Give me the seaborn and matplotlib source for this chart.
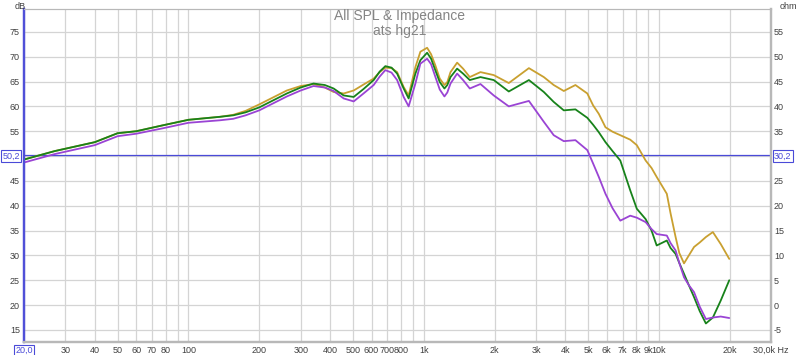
import numpy as np
import pandas as pd
import seaborn as sns
import matplotlib
matplotlib.use("Agg")
import matplotlib.pyplot as plt
from matplotlib.ticker import FixedLocator, NullFormatter, NullLocator

# frequency points (Hz)
freqs = [20, 27, 40, 50, 60, 78, 100, 136, 155, 175,
         200, 262, 300, 340, 380, 414, 457, 504, 555, 613,
         650, 687, 730, 771, 822, 863, 922, 968, 1034, 1075,
         1120, 1170, 1225, 1260, 1300, 1387, 1470, 1570, 1743, 1985,
         2300, 2800, 3240, 3570, 3940, 4415, 4960, 5250, 5550, 5925,
         6350, 6850, 7550, 8050, 8780, 9300, 9780, 10800, 11200, 11770,
         12200, 12780, 13400, 14100, 14900, 15830, 16950, 18300, 19900]

spl_gold = [49.3, 51.0, 52.8, 54.6, 55.0, 56.2, 57.3, 57.9, 58.3, 59.1,
            60.4, 63.2, 64.1, 64.5, 63.8, 62.9, 62.6, 63.2, 64.4, 65.6,
            66.9, 67.8, 67.7, 66.9, 63.9, 62.2, 67.9, 71.0, 71.8, 70.5,
            68.3, 65.6, 64.3, 64.9, 66.9, 68.8, 67.6, 65.9, 66.9, 66.3,
            64.7, 67.7, 65.9, 64.3, 63.1, 64.3, 62.6, 60.2, 58.5, 55.8,
            54.9, 54.2, 53.3, 52.2, 49.1, 47.6, 45.8, 42.4, 38.5, 33.7,
            30.5, 28.4, 30.0, 31.7, 32.6, 33.7, 34.7, 32.3, 29.3]

spl_green = [49.3, 51.0, 52.8, 54.6, 55.0, 56.2, 57.3, 57.9, 58.2, 58.8,
             59.8, 62.6, 63.8, 64.6, 64.3, 63.6, 62.2, 61.9, 63.5, 65.3,
             67.0, 68.1, 67.8, 66.6, 63.6, 61.6, 66.6, 69.3, 70.8, 69.6,
             67.3, 64.9, 63.6, 64.3, 65.9, 67.6, 66.6, 65.3, 65.9, 65.3,
             63.0, 65.3, 62.9, 60.9, 59.2, 59.4, 57.7, 56.3, 54.8, 52.8,
             51.0, 49.1, 43.1, 39.4, 37.3, 35.0, 32.0, 33.0, 31.5, 30.3,
             28.5, 26.3, 24.0, 21.6, 18.8, 16.3, 17.5, 20.9, 25.0]

spl_purple = [48.7, 50.4, 52.2, 54.0, 54.5, 55.6, 56.7, 57.2, 57.5, 58.2,
              59.2, 62.0, 63.2, 64.1, 63.8, 63.1, 61.6, 61.0, 62.6, 64.3,
              66.0, 67.3, 66.8, 65.3, 61.9, 60.0, 64.6, 68.6, 69.6, 68.5,
              66.0, 63.4, 62.0, 62.8, 64.6, 66.6, 65.3, 63.6, 64.5, 62.2,
              60.0, 61.1, 56.9, 54.2, 53.0, 53.2, 51.2, 48.5, 45.8, 42.4,
              39.5, 37.0, 38.0, 37.6, 36.7, 35.3, 34.3, 34.0, 32.5, 31.0,
              28.5, 25.6, 24.0, 22.6, 19.7, 17.2, 17.5, 17.7, 17.4]

series_names = ["gold", "green", "purple"]
palette = {"gold": "#c9a030", "green": "#17821a", "purple": "#9a44d4"}

x_ticks = [20, 30, 40, 50, 60, 70, 80, 90, 100, 200, 300, 400, 500, 600, 700,
           800, 900, 1000, 2000, 3000, 4000, 5000, 6000, 7000, 8000, 9000,
           10000, 20000, 30000]
x_labels = ["20,0", "30", "40", "50", "60", "70", "80", "", "100", "200", "300",
            "400", "500", "600", "700", "800", "", "1k", "2k", "3k", "4k", "5k",
            "6k", "7k", "8k", "9k", "10k", "20k", "30,0k Hz"]

cursor_db = 50.2

df = pd.concat([
    pd.DataFrame({"freq": freqs, "spl": vals, "trace": name})
    for name, vals in zip(series_names, [spl_gold, spl_green, spl_purple])
])

sns.set_style("white")
plt.rcParams["font.family"] = ["Liberation Sans", "DejaVu Sans"]

fig = plt.figure(figsize=(8, 3.55), dpi=100)
ax = fig.add_axes([0.030, 0.037, 0.934, 0.939])

grid_c = "#d4d4d4"
for f in x_ticks:
    ax.axvline(f, color=grid_c, lw=0.9, zorder=0)
for v in range(15, 80, 5):
    ax.axhline(v, color=grid_c, lw=0.9, zorder=0)

ax.axhline(cursor_db, color="#4a4ad8", lw=0.9, zorder=1)

sns.lineplot(data=df, x="freq", y="spl", hue="trace", palette=palette,
             estimator=None, sort=False, lw=1.3, legend=False, ax=ax, zorder=3)

ax.set_xscale("log")
ax.set_xlim(20, 30000)
ax.set_ylim(12.6, 79.7)
ax.xaxis.set_major_locator(FixedLocator(x_ticks))
ax.xaxis.set_minor_locator(NullLocator())
ax.xaxis.set_minor_formatter(NullFormatter())
ax.set_xticklabels(x_labels)
ax.set_xlabel("")
ax.set_ylabel("")

y_left = [v for v in range(15, 80, 5) if v != 50] + [cursor_db]
ax.set_yticks(y_left)
ax.set_yticklabels([str(v) for v in range(15, 80, 5) if v != 50] + ["50,2"])
ax.tick_params(axis="both", length=0, labelsize=6.5, colors="#404040", pad=3)

ax2 = ax.twinx()
ax2.set_ylim(12.6 - 20, 79.7 - 20)
y_right = [v for v in range(-5, 60, 5) if v != 30] + [cursor_db - 20]
ax2.set_yticks(y_right)
ax2.set_yticklabels([str(v) for v in range(-5, 60, 5) if v != 30] + ["30,2"])
ax2.tick_params(axis="y", length=0, labelsize=6.5, colors="#404040", pad=2)

box = dict(boxstyle="square,pad=0.15", fc="white", ec="#4a4ad8", lw=0.8)
ax.get_xticklabels()[0].set_bbox(box)
ax.get_xticklabels()[0].set_color("#4a4ad8")
ax.get_yticklabels()[-1].set_bbox(box)
ax.get_yticklabels()[-1].set_color("#4a4ad8")
ax2.get_yticklabels()[-1].set_bbox(box)
ax2.get_yticklabels()[-1].set_color("#4a4ad8")

for a in (ax, ax2):
    for side in ("top", "right", "bottom"):
        a.spines[side].set_color("#b8b8b8")
        a.spines[side].set_linewidth(1.6)
    a.spines["left"].set_color("#5050d8")
    a.spines["left"].set_linewidth(1.6)
ax.spines["top"].set_linewidth(0.8)
ax2.spines["top"].set_linewidth(0.8)

fig.text(0.032, 0.995, "dB", fontsize=6.5, color="#404040", ha="right", va="top")
fig.text(0.985, 0.995, "ohm", fontsize=6.5, color="#404040", ha="center", va="top")
fig.text(0.499, 0.955, "All SPL & Impedance", fontsize=10, color="#858585",
         ha="center", va="center")
fig.text(0.499, 0.912, "ats hg21", fontsize=10, color="#858585",
         ha="center", va="center")

fig.savefig("out.png", dpi=100, facecolor="white")
